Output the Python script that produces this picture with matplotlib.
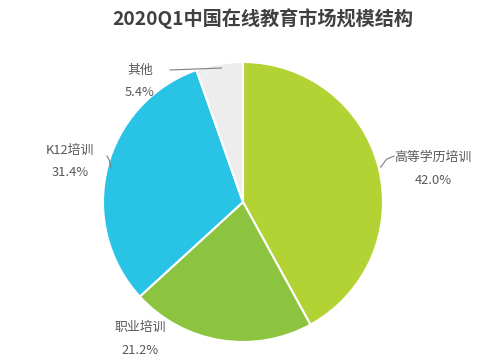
import numpy as np
import matplotlib
matplotlib.use("Agg")
import matplotlib.pyplot as plt

plt.rcParams['font.family'] = ['Noto Sans CJK SC', 'DejaVu Sans']

# data
categories = ['高等学历培训', '职业培训', 'K12培训', '其他']
shares = [42.0, 21.2, 31.4, 5.4]
colors = ['#B3D334', '#8CC43F', '#29C3E6', '#EDEDED']

TITLE = '2020Q1中国在线教育市场规模结构'
CENTER = (243, 160)   # pixel coords, y up
RADIUS = 140

# label anchor (x, y of name line) in pixel coords, y up
LABEL_POS = {
    '高等学历培训': (433, 205),
    '职业培训': (140, 35),
    'K12培训': (70, 212),
    '其他': (140, 292),
}
# where the leader line ends (near the text); None = no line
LINE_END = {
    '高等学历培训': (394, 206),
    '职业培训': None,
    'K12培训': (107, 206),
    '其他': (170, 292),
}

fig = plt.figure(figsize=(5, 3.62), dpi=100)
ax = fig.add_axes([0, 0, 1, 1])

wedges, _ = ax.pie(shares, colors=colors, startangle=90, counterclock=False,
                   center=CENTER, radius=RADIUS, frame=True,
                   wedgeprops=dict(edgecolor='white', linewidth=1.5))
ax.set_xlim(0, 500)
ax.set_ylim(0, 362)
ax.set_aspect('equal')
ax.axis('off')

for w, name, val in zip(wedges, categories, shares):
    mid = np.deg2rad((w.theta1 + w.theta2) / 2)
    ex = CENTER[0] + RADIUS * np.cos(mid)
    ey = CENTER[1] + RADIUS * np.sin(mid)
    tx, ty = LABEL_POS[name]
    end = LINE_END[name]
    if end is not None:
        if name == '其他':
            ax.plot([ex + 2, end[0]], [ey - 4, end[1]], color='#7F7F7F', lw=0.8)
        elif name == 'K12培训':
            ax.plot([ex + 4, ex + 2, end[0]], [ey, ey + 8, end[1]], color='#7F7F7F', lw=0.8)
        else:
            ax.plot([ex + 2, ex + 8, end[0]], [ey, ey + 8, end[1]], color='#7F7F7F', lw=0.8)
    ax.text(tx, ty, name, ha='center', va='center', fontsize=9.3, color='#595959')
    ax.text(tx, ty - 23, f'{val:.1f}%', ha='center', va='center', fontsize=9.3, color='#595959')

fig.text(0.526, 0.95, TITLE, ha='center', va='center', fontsize=13.8,
         fontweight='bold', color='#404040')

fig.savefig('out.png', dpi=100, facecolor='white')
